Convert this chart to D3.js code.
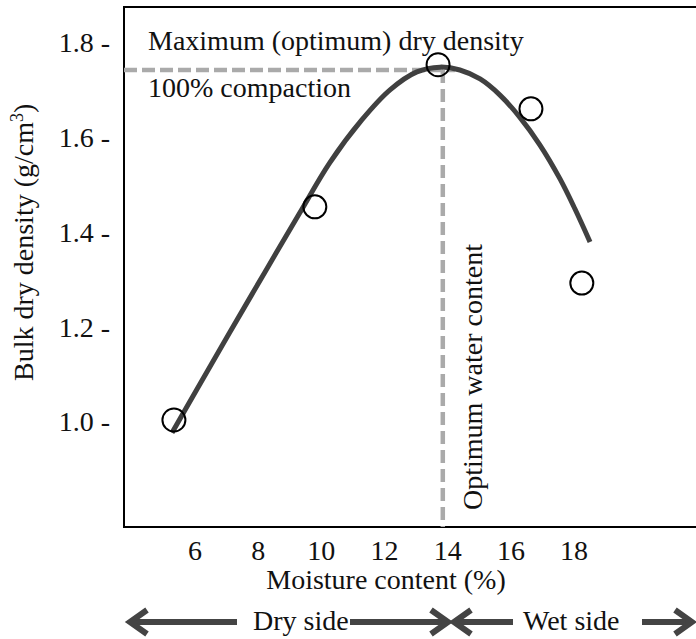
<!DOCTYPE html>
<html>
<head>
<meta charset="utf-8">
<script src="https://cdn.jsdelivr.net/npm/d3@7"></script>
<style>
  html, body { margin: 0; padding: 0; background: #fff; }
  svg { display: block; }
  text { font-family: "Liberation Serif", "Times New Roman", serif; fill: #111; }
</style>
</head>
<body>
<svg id="chart" width="696" height="639"></svg>
<script>
// ---- data ----
const xTicks = [6, 8, 10, 12, 14, 16, 18];
const yTicks = [1.0, 1.2, 1.4, 1.6, 1.8];

// measured points (moisture %, bulk dry density g/cm3)
const pointMoisture = [5.35, 9.81, 13.71, 16.65, 18.26];
const pointDensity  = [1.004, 1.454, 1.754, 1.661, 1.293];

// fitted compaction curve
const curveMoisture = [5.29, 6.07, 7.11, 8.22, 9.33, 10.28, 11.29, 12.19, 13.04, 13.77, 14.40, 15.04, 15.67, 16.30, 16.93, 17.57, 18.04, 18.52];
const curveDensity  = [0.977, 1.068, 1.188, 1.315, 1.441, 1.547, 1.637, 1.701, 1.739, 1.749, 1.743, 1.724, 1.690, 1.643, 1.585, 1.513, 1.450, 1.380];

const optimumMoisture = 13.86;
const maxDensity = 1.743;
const maxLineEnd = 14.24;

// ---- layout ----
const svg = d3.select("#chart");
const margin = { left: 124, top: 7 };
const plotW = 600, plotH = 520;
const g = svg.append("g").attr("transform", `translate(${margin.left},${margin.top})`);

const x = d3.scaleLinear().domain([3.77, 22.76]).range([0, plotW]);
const y = d3.scaleLinear().domain([0.778, 1.876]).range([plotH, 0]);

// frame
g.append("rect")
  .attr("x", 0).attr("y", 0)
  .attr("width", plotW).attr("height", plotH)
  .attr("fill", "none").attr("stroke", "#000").attr("stroke-width", 2);

// axes
const yAxis = g.append("g")
  .call(d3.axisLeft(y).tickValues(yTicks).tickSize(0).tickPadding(14).tickFormat(d => d.toFixed(1) + " -"));
yAxis.select(".domain").remove();
yAxis.selectAll("text").style("font-size", "28px").style("font-family", "Liberation Serif").attr("fill", "#111");

const xAxis = g.append("g").attr("transform", `translate(0,${plotH})`)
  .call(d3.axisBottom(x).tickValues(xTicks).tickSize(0).tickPadding(13).tickFormat(d3.format("d")));
xAxis.select(".domain").remove();
xAxis.selectAll("text").style("font-size", "28px").style("font-family", "Liberation Serif").attr("fill", "#111");

// optimum dashed lines
g.append("line")
  .attr("x1", x.range()[0]).attr("x2", x(maxLineEnd))
  .attr("y1", y(maxDensity)).attr("y2", y(maxDensity))
  .attr("stroke", "#aaaaaa").attr("stroke-width", 4.5).attr("stroke-dasharray", "13,5");
g.append("line")
  .attr("x1", x(optimumMoisture)).attr("x2", x(optimumMoisture))
  .attr("y1", y(maxDensity)).attr("y2", plotH)
  .attr("stroke", "#aaaaaa").attr("stroke-width", 4.5).attr("stroke-dasharray", "13,6");

// curve
const curveData = curveMoisture.map((m, i) => [m, curveDensity[i]]);
g.append("path")
  .datum(curveData)
  .attr("fill", "none").attr("stroke", "#404040").attr("stroke-width", 5)
  .attr("d", d3.line().x(d => x(d[0])).y(d => y(d[1])).curve(d3.curveCatmullRom));

// points
const pts = pointMoisture.map((m, i) => [m, pointDensity[i]]);
g.selectAll("circle.pt").data(pts).join("circle")
  .attr("class", "pt")
  .attr("cx", d => x(d[0])).attr("cy", d => y(d[1])).attr("r", 11.5)
  .attr("fill", "none").attr("stroke", "#000").attr("stroke-width", 2);

// annotations
svg.append("text").attr("x", 148).attr("y", 50).style("font-size", "28px")
  .text("Maximum (optimum) dry density");
svg.append("text").attr("x", 148).attr("y", 97).style("font-size", "28px")
  .text("100% compaction");
svg.append("text").attr("transform", "translate(482,510) rotate(-90)").style("font-size", "28px")
  .text("Optimum water content");

// axis titles
const yl = svg.append("text").attr("transform", "translate(33,381) rotate(-90)").style("font-size", "28px");
yl.append("tspan").text("Bulk dry density (g/cm");
yl.append("tspan").text("3").style("font-size", "18px").attr("dy", "-10");
yl.append("tspan").text(")").attr("dy", "10");

svg.append("text").attr("x", 386).attr("y", 589).attr("text-anchor", "middle").style("font-size", "28px")
  .text("Moisture content (%)");

// dry / wet side arrows
const arrowY = 622;
const ag = svg.append("g").attr("stroke", "#444").attr("stroke-width", 6).attr("fill", "none")
  .attr("stroke-linecap", "butt").attr("stroke-linejoin", "miter");
function arrow(from, to) {
  ag.append("line").attr("x1", from).attr("x2", to).attr("y1", arrowY).attr("y2", arrowY);
  const dir = to > from ? 1 : -1;
  ag.append("path").attr("d", `M${to - dir * 17},${arrowY - 12} L${to},${arrowY} L${to - dir * 17},${arrowY + 12}`);
}
arrow(237, 130);
arrow(350, 448);
arrow(513, 454);
arrow(642, 692);
svg.append("text").attr("x", 253).attr("y", 630).style("font-size", "28px").text("Dry side");
svg.append("text").attr("x", 523).attr("y", 630).style("font-size", "28px").text("Wet side");
</script>
</body>
</html>
